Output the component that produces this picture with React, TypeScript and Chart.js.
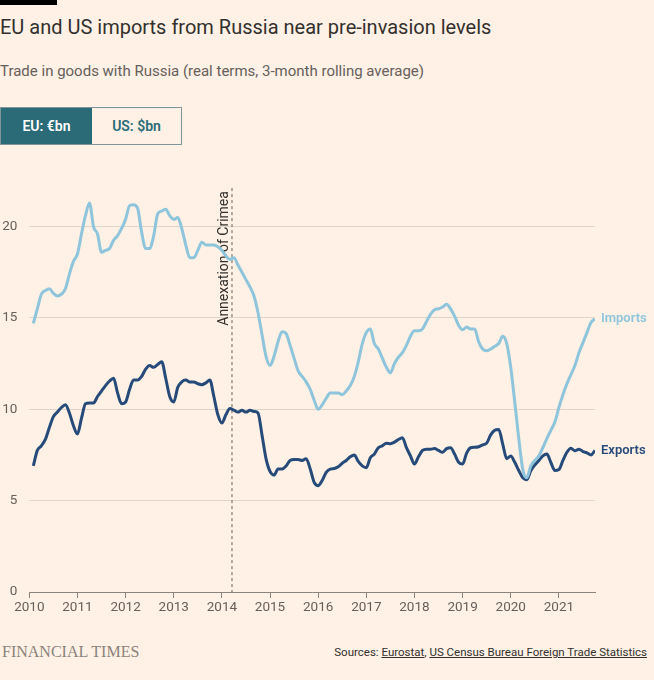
import React, { useEffect, useRef } from "react";
import { Chart, registerables } from "chart.js";

Chart.register(...registerables);

// Monthly series, February 2010 – October 2021 (3-month rolling average, real terms)
const startYear = 2010;
const startMonth = 2; // February
const yearTicks = [2010, 2011, 2012, 2013, 2014, 2015, 2016, 2017, 2018, 2019, 2020, 2021];
const valueTicks = [0, 5, 10, 15, 20];
const crimeaDate = 2014.21; // 18 March 2014
const crimeaLabel = "Annexation of Crimea";

const imports = [
  14.7, 15.5, 16.3, 16.5, 16.6, 16.35, 16.2, 16.3, 16.6, 17.4, 18.1,
  18.5, 19.6, 20.6, 21.3, 20.0, 19.6, 18.6, 18.7, 18.8, 19.25, 19.5, 19.9,
  20.4, 21.15, 21.2, 21.0, 19.7, 18.8, 18.8, 19.5, 20.7, 20.85, 20.95, 20.6,
  20.4, 20.5, 19.9, 19.0, 18.3, 18.3, 18.7, 19.15, 19.0, 19.0, 19.0, 18.9,
  18.7, 18.4, 18.2, 18.3, 17.9, 17.5, 17.1, 16.7, 16.2, 15.3, 14.1, 12.9,
  12.4, 12.9, 13.7, 14.25, 14.15, 13.5, 12.8, 12.1, 11.8, 11.5, 11.1, 10.5,
  10.0, 10.25, 10.6, 10.9, 10.9, 10.9, 10.8, 11.0, 11.3, 11.8, 12.6, 13.6,
  14.2, 14.4, 13.6, 13.3, 12.8, 12.3, 12.0, 12.5, 12.85, 13.1, 13.5, 14.0,
  14.3, 14.3, 14.4, 14.8, 15.2, 15.45, 15.5, 15.6, 15.75, 15.5, 15.1, 14.6,
  14.35, 14.5, 14.4, 14.4, 13.7, 13.3, 13.2, 13.3, 13.45, 13.6, 14.0, 13.6,
  12.3, 10.4, 8.4, 6.7, 6.25, 6.9, 7.2, 7.45, 7.9, 8.4, 8.85, 9.3,
  10.1, 10.8, 11.4, 11.9, 12.4, 13.1, 13.65, 14.2, 14.75, 14.95,
];

const exports = [
  6.9, 7.75, 8.0, 8.35, 9.0, 9.6, 9.85, 10.1, 10.25, 9.8, 9.1,
  8.65, 9.5, 10.3, 10.35, 10.35, 10.7, 11.0, 11.3, 11.55, 11.7, 10.9, 10.3,
  10.4, 11.1, 11.6, 11.6, 11.8, 12.2, 12.4, 12.3, 12.45, 12.6, 11.7, 10.7,
  10.4, 11.2, 11.5, 11.6, 11.5, 11.5, 11.4, 11.35, 11.45, 11.6, 10.7, 9.7,
  9.25, 9.7, 10.05, 9.95, 9.85, 9.95, 9.85, 9.95, 9.88, 9.8, 8.6, 7.3,
  6.6, 6.4, 6.73, 6.73, 6.9, 7.2, 7.25, 7.25, 7.2, 7.3, 6.75, 6.0,
  5.82, 6.1, 6.55, 6.73, 6.76, 6.85, 7.05, 7.2, 7.4, 7.5, 7.15, 6.9,
  6.8, 7.35, 7.55, 7.9, 8.0, 8.14, 8.12, 8.2, 8.35, 8.45, 7.9, 7.45,
  7.0, 7.4, 7.75, 7.82, 7.82, 7.85, 7.75, 7.65, 7.85, 7.9, 7.55, 7.1,
  7.0, 7.6, 7.9, 7.92, 7.95, 8.06, 8.15, 8.6, 8.85, 8.9, 8.1, 7.3,
  7.45, 7.1, 6.65, 6.25, 6.15, 6.64, 6.95, 7.2, 7.45, 7.55, 7.09, 6.65,
  6.7, 7.2, 7.65, 7.87, 7.73, 7.82, 7.69, 7.62, 7.5, 7.75,
];

const IMPORTS_COLOR = "#8ec5dc";
const EXPORTS_COLOR = "#264a7a";
const TEXT = "#33302e";
const MUTED = "#66605c";
const FONT = "Roboto, 'Noto Sans', sans-serif";

const toX = (i: number) => startYear + (startMonth - 1 + i) / 12;

const overlayPlugin = {
  id: "overlay",
  beforeDatasetsDraw(chart: any) {
    const { ctx, chartArea, scales } = chart;
    const x = scales.x.getPixelForValue(crimeaDate);
    ctx.save();
    ctx.strokeStyle = MUTED;
    ctx.lineWidth = 1;
    ctx.setLineDash([3, 3]);
    ctx.beginPath();
    ctx.moveTo(x, chartArea.top - 2);
    ctx.lineTo(x, chartArea.bottom);
    ctx.stroke();
    ctx.setLineDash([]);
    ctx.translate(x - 4, chartArea.top + 1);
    ctx.rotate(-Math.PI / 2);
    ctx.fillStyle = TEXT;
    ctx.font = `14px ${FONT}`;
    ctx.textAlign = "right";
    ctx.textBaseline = "alphabetic";
    ctx.fillText(crimeaLabel, 0, 0);
    ctx.restore();
  },
  afterDatasetsDraw(chart: any) {
    const { ctx, chartArea } = chart;
    ctx.save();
    ctx.font = `600 13px ${FONT}`;
    ctx.textAlign = "left";
    ctx.textBaseline = "middle";
    chart.data.datasets.forEach((ds: any, di: number) => {
      const meta = chart.getDatasetMeta(di);
      const last = meta.data[meta.data.length - 1];
      ctx.fillStyle = ds.borderColor;
      ctx.fillText(ds.label, chartArea.right + 6, last.y);
    });
    ctx.restore();
  },
};

export default function App() {
  const canvasRef = useRef<HTMLCanvasElement>(null);

  useEffect(() => {
    if (!canvasRef.current) return;
    const chart = new Chart(canvasRef.current, {
      type: "line",
      data: {
        datasets: [
          {
            label: "Imports",
            data: imports.map((v, i) => ({ x: toX(i), y: v })),
            borderColor: IMPORTS_COLOR,
            borderWidth: 3,
            pointRadius: 0,
            cubicInterpolationMode: "monotone",
          },
          {
            label: "Exports",
            data: exports.map((v, i) => ({ x: toX(i), y: v })),
            borderColor: EXPORTS_COLOR,
            borderWidth: 3,
            pointRadius: 0,
            cubicInterpolationMode: "monotone",
          },
        ],
      },
      options: {
        responsive: false,
        animation: false,
        devicePixelRatio: 1,
        layout: { padding: { left: 0, right: 59, top: 17, bottom: 0 } },
        plugins: { legend: { display: false }, tooltip: { enabled: false } },
        scales: {
          x: {
            type: "linear",
            min: yearTicks[0],
            max: toX(imports.length - 1),
            afterBuildTicks: (s: any) => {
              s.ticks = yearTicks.map((v) => ({ value: v }));
            },
            afterFit: (s: any) => {
              s.height = 28;
            },
            ticks: {
              callback: (v: any) => String(v),
              color: MUTED,
              font: { family: FONT, size: 13.5 },
              padding: 2,
              maxRotation: 0,
              autoSkip: false,
            },
            grid: { drawOnChartArea: false, drawTicks: true, tickLength: 6, color: "#8c857f" },
            border: { display: true, color: "#8c857f", width: 1 },
          },
          y: {
            min: 0,
            max: 22,
            afterBuildTicks: (s: any) => {
              s.ticks = valueTicks.map((v) => ({ value: v }));
            },
            afterFit: (s: any) => {
              s.width = 29.3;
            },
            ticks: {
              color: MUTED,
              font: { family: FONT, size: 13.5 },
              padding: 12,
            },
            grid: { drawTicks: false, color: "#e0d5ca" },
            border: { display: false },
          },
        },
      },
      plugins: [overlayPlugin],
    } as any);
    return () => chart.destroy();
  }, []);

  return (
    <div
      style={{
        position: "absolute",
        left: 0,
        top: 0,
        width: 654,
        height: 680,
        background: "#FFF1E5",
        overflow: "hidden",
        fontFamily: FONT,
        color: TEXT,
      }}
    >
      <div style={{ position: "absolute", left: 0, top: 0, width: 57, height: 5, background: "#000" }} />
      <div
        style={{
          position: "absolute",
          left: 0,
          top: 13,
          fontSize: 20,
          lineHeight: "28px",
          whiteSpace: "nowrap",
        }}
      >
        EU and US imports from Russia near pre-invasion levels
      </div>
      <div
        style={{
          position: "absolute",
          left: 0,
          top: 61,
          fontSize: 15,
          lineHeight: "20px",
          color: MUTED,
          whiteSpace: "nowrap",
        }}
      >
        Trade in goods with Russia (real terms, 3-month rolling average)
      </div>
      <div
        style={{
          position: "absolute",
          left: 0,
          top: 107,
          width: 182,
          height: 38,
          boxSizing: "border-box",
          border: "1px solid #7f969b",
          display: "flex",
          fontSize: 14,
          fontWeight: 600,
        }}
      >
        <div
          style={{
            width: 91,
            background: "#2b6b77",
            color: "#fff",
            display: "flex",
            alignItems: "center",
            justifyContent: "center",
          }}
        >
          EU: €bn
        </div>
        <div
          style={{
            flex: 1,
            color: "#2b6b77",
            display: "flex",
            alignItems: "center",
            justifyContent: "center",
          }}
        >
          US: $bn
        </div>
      </div>
      <canvas
        ref={canvasRef}
        width={654}
        height={450}
        style={{ position: "absolute", left: 0, top: 170, width: 654, height: 450 }}
      />
      <div
        style={{
          position: "absolute",
          left: 2,
          top: 642,
          fontFamily: "'Liberation Serif', serif",
          fontSize: 16,
          lineHeight: "20px",
          color: "#8b837c",
          whiteSpace: "nowrap",
        }}
      >
        FINANCIAL TIMES
      </div>
      <div
        style={{
          position: "absolute",
          right: 7,
          top: 644,
          fontSize: 11.5,
          lineHeight: "17px",
          whiteSpace: "nowrap",
        }}
      >
        Sources: <span style={{ textDecoration: "underline" }}>Eurostat</span>,{" "}
        <span style={{ textDecoration: "underline" }}>US Census Bureau Foreign Trade Statistics</span>
      </div>
    </div>
  );
}
